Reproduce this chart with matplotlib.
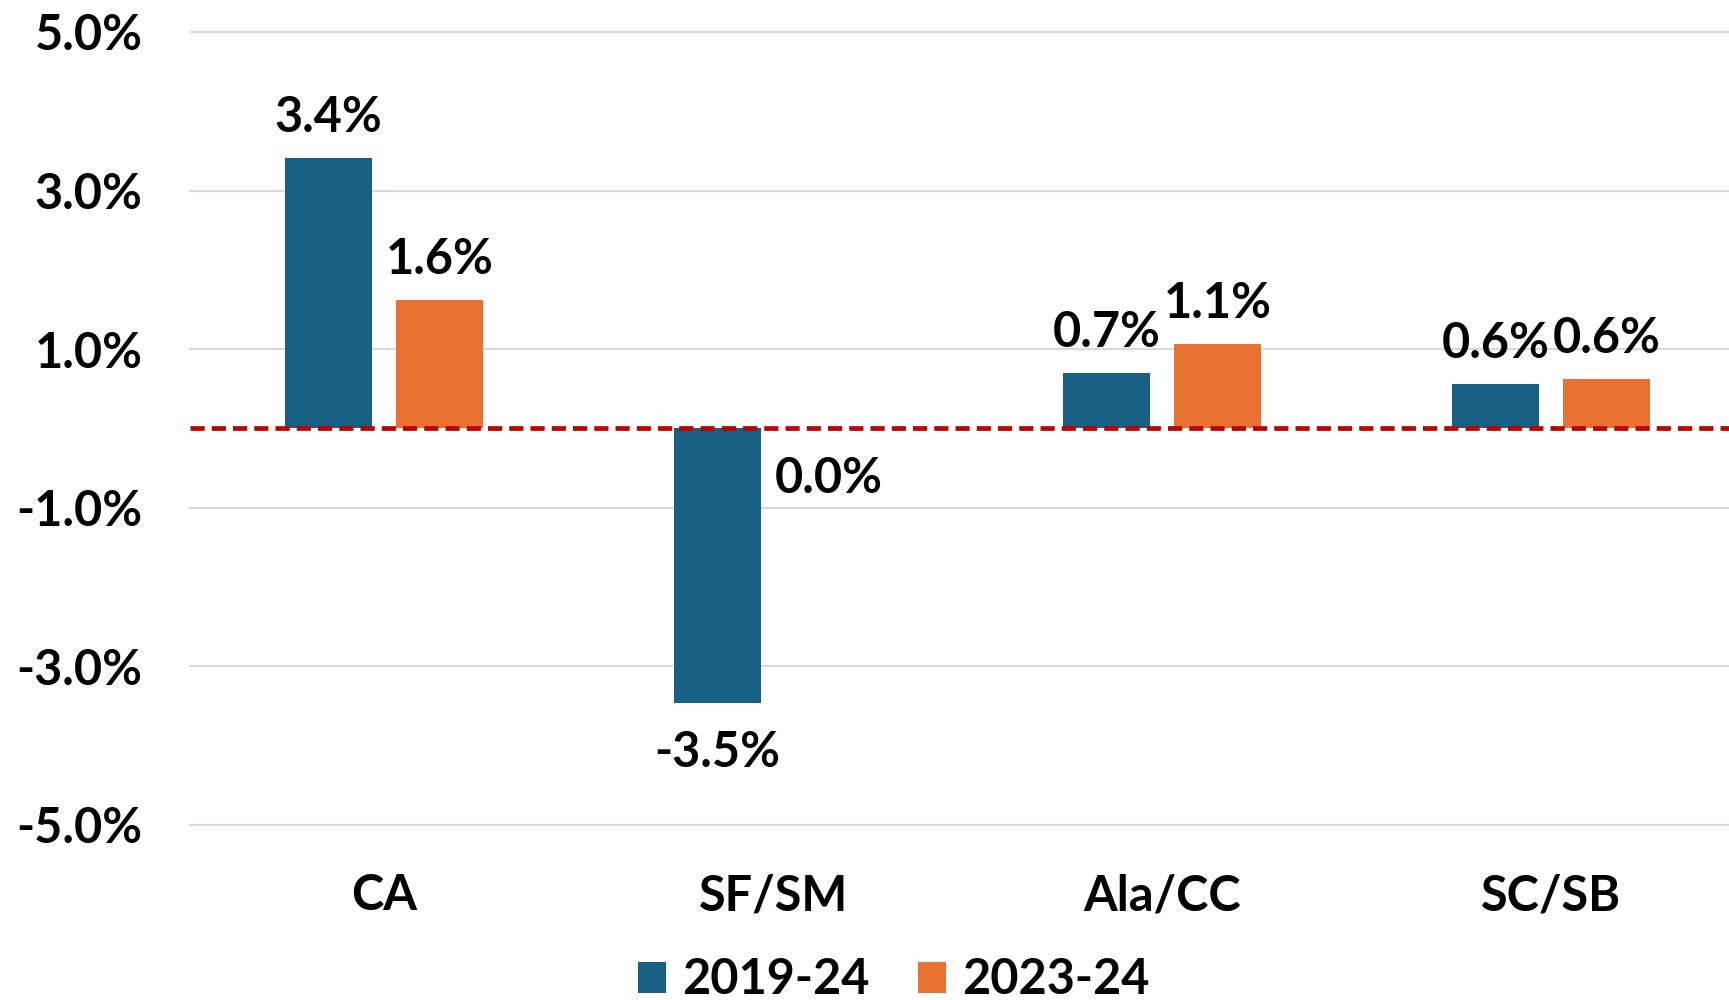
import matplotlib
matplotlib.use("Agg")
import matplotlib.pyplot as plt
from matplotlib.patches import Patch
import numpy as np

# values (percent change)
regions = ["CA", "SF/SM", "Ala/CC", "SC/SB"]
series_names = ["2019-24", "2023-24"]
chg_2019_24 = [3.41, -3.46, 0.70, 0.56]
chg_2023_24 = [1.62, 0.0, 1.06, 0.62]
yticks = [5, 3, 1, -1, -3, -5]

BLUE = "#176083"
ORANGE = "#E97132"
FONT = ["Lato", "DejaVu Sans"]
FS = 35

plt.rcParams["font.family"] = FONT
plt.rcParams["font.weight"] = "bold"

fig = plt.figure(figsize=(17.29, 10), dpi=100)
ax = fig.add_axes([0.1097, 0.1753, 0.8999, 0.7927])

x = np.arange(len(regions))
w = 0.224
off = 0.143
for vals, dx, col in ((chg_2019_24, -off, BLUE), (chg_2023_24, off, ORANGE)):
    bars = ax.bar(x + dx, vals, width=w, color=col, zorder=2)
    for b, v in zip(bars, vals):
        if v > 0:
            ax.annotate(f"{v:.1f}%", (b.get_x() + b.get_width() / 2, v), xytext=(0, 13),
                        textcoords="offset points", ha="center", va="bottom",
                        fontsize=FS, fontweight="bold")
        else:
            ax.annotate(f"{abs(v) if round(v, 1) == 0 else v:.1f}%", (b.get_x() + b.get_width() / 2, v),
                        xytext=(0, -20), textcoords="offset points", ha="center", va="top",
                        fontsize=FS, fontweight="bold")

ax.axhline(0, color="#C00000", lw=3.4, ls=(0, (3, 1.5)), zorder=3)

ax.set_xlim(-0.5, len(regions) - 0.5)
ax.set_ylim(-5.0, 5.0)
ax.set_yticks(yticks)
ax.set_yticklabels([f"{t:.1f}%" for t in yticks])
ax.set_xticks(x)
ax.set_xticklabels(regions)
ax.tick_params(axis="y", length=0, pad=34, labelsize=FS)
ax.tick_params(axis="x", length=0, pad=35, labelsize=FS)
for lbl in ax.get_xticklabels() + ax.get_yticklabels():
    lbl.set_fontweight("bold")
ax.grid(axis="y", color="#D9D9D9", lw=1.5, zorder=0)
for ln in ax.get_ygridlines():
    ln.set_clip_on(False)
for sp in ax.spines.values():
    sp.set_visible(False)

handles = [Patch(facecolor=BLUE, label=series_names[0]),
           Patch(facecolor=ORANGE, label=series_names[1])]
fig.legend(handles=handles, loc="center", bbox_to_anchor=(0.517, 0.02), ncol=2, frameon=False,
           prop=dict(size=FS, weight="bold"), handlelength=0.57, handleheight=0.6,
           handletextpad=0.34, columnspacing=1.0)

fig.savefig("out.png", dpi=100)
